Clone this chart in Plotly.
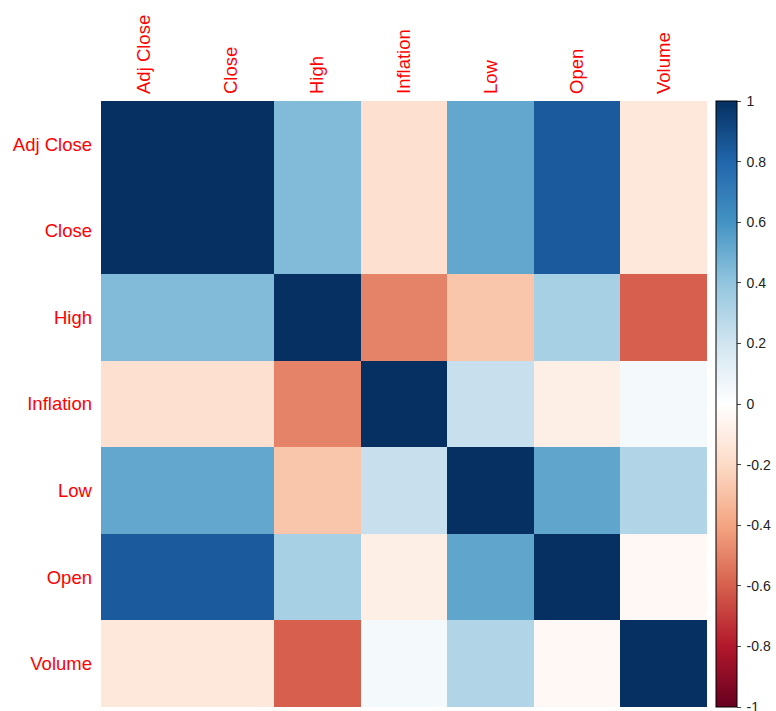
import plotly.graph_objects as go

# Variables of the correlation matrix
labels = ["Adj Close", "Close", "High", "Inflation", "Low", "Open", "Volume"]

# Pearson correlations, row by row (symmetric)
row_adj_close = [1.00, 1.00, 0.44, -0.17, 0.52, 0.84, -0.13]
row_close     = [1.00, 1.00, 0.44, -0.17, 0.52, 0.84, -0.13]
row_high      = [0.44, 0.44, 1.00, -0.50, -0.28, 0.33, -0.60]
row_inflation = [-0.17, -0.17, -0.50, 1.00, 0.23, -0.09, 0.05]
row_low       = [0.52, 0.52, -0.28, 0.23, 1.00, 0.53, 0.30]
row_open      = [0.84, 0.84, 0.33, -0.09, 0.53, 1.00, -0.04]
row_volume    = [-0.13, -0.13, -0.60, 0.05, 0.30, -0.04, 1.00]

corr = [row_adj_close, row_close, row_high, row_inflation,
        row_low, row_open, row_volume]

# Colorbar tick values
cbar_ticks = [1, 0.8, 0.6, 0.4, 0.2, 0, -0.2, -0.4, -0.6, -0.8, -1]

# Diverging red-white-blue palette, -1 (red) to 1 (blue)
palette = ["#67001F", "#B2182B", "#D6604D", "#F4A582", "#FDDBC7", "#FFFFFF",
           "#D1E5F0", "#92C5DE", "#4393C3", "#2166AC", "#053061"]
colorscale = [[i / (len(palette) - 1), c] for i, c in enumerate(palette)]

fig = go.Figure(
    go.Heatmap(
        z=corr,
        x=labels,
        y=labels,
        zmin=-1,
        zmax=1,
        colorscale=colorscale,
        hovertemplate="%{y} / %{x}: %{z}<extra></extra>",
        colorbar=dict(
            x=1.0149,
            xanchor="left",
            xref="paper",
            y=0.5,
            yanchor="middle",
            len=1.0,
            lenmode="fraction",
            thickness=21,
            thicknessmode="pixels",
            outlinecolor="black",
            outlinewidth=1,
            ticks="outside",
            ticklen=4,
            tickcolor="#444444",
            tickvals=cbar_ticks,
            ticktext=["\u2009" + f"{v:g}" for v in cbar_ticks],
            ticklabeloverflow="allow",
            tickfont=dict(family="Liberation Sans, Arial, sans-serif", size=14, color="#222222"),
            xpad=0,
            ypad=0,
        ),
    )
)

fig.update_layout(
    width=776,
    height=711,
    margin=dict(l=101, r=69, t=101, b=4),
    paper_bgcolor="white",
    plot_bgcolor="white",
    font=dict(family="Liberation Sans, Arial, sans-serif"),
    xaxis=dict(
        side="top",
        tickangle=-90,
        tickfont=dict(size=18.5, color="red"),
        showgrid=False,
        zeroline=False,
        ticks="",
        ticklabelstandoff=6,
        constrain="domain",
    ),
    yaxis=dict(
        autorange="reversed",
        tickfont=dict(size=18.5, color="red"),
        showgrid=False,
        zeroline=False,
        ticks="",
        ticklabelstandoff=8,
    ),
)

fig.write_html("out.html")
